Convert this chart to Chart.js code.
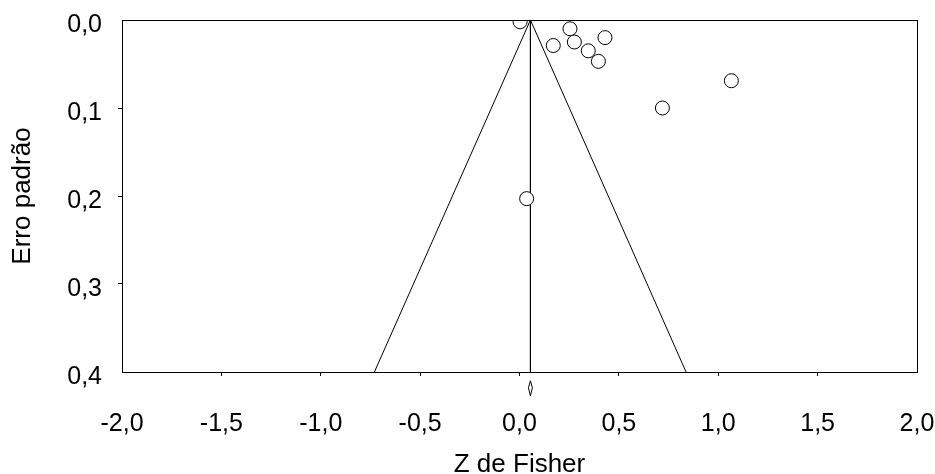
<!DOCTYPE html>
<html>
<head>
<meta charset="utf-8">
<script src="https://cdn.jsdelivr.net/npm/chart.js@4.4.1/dist/chart.umd.min.js"></script>
<style>
  body { margin: 0; background: #fff; }
</style>
</head>
<body>
<canvas id="funnel" width="935" height="474"></canvas>
<script>
// estudos: Z de Fisher e erro padrão
const zFisher = [0.003, 0.254, 0.170, 0.276, 0.430, 0.346, 0.397, 1.066, 0.719, 0.036];
const erroPadrao = [0.002, 0.010, 0.029, 0.025, 0.020, 0.035, 0.047, 0.069, 0.100, 0.203];

// efeito combinado e limites do funil (IC 95%)
const pooled = 0.055;
const funnelX = [-0.730, 0.055, 0.838];
const funnelSE = [0.4, 0, 0.4];

// losango do efeito combinado (abaixo do eixo)
const diamondX = [0.045, 0.055, 0.065, 0.055, 0.045];
const diamondY = [0.418, 0.410, 0.418, 0.427, 0.418];

const xTicks = [-2, -1.5, -1, -0.5, 0, 0.5, 1, 1.5, 2];
const yTicks = [0, 0.1, 0.2, 0.3, 0.4];

const toXY = (xs, ys) => xs.map((x, i) => ({ x: x, y: ys[i] }));
const fmt = v => Number(v).toFixed(1).replace('.', ',');

Chart.defaults.font.family = "'Liberation Sans', Arial, sans-serif";
Chart.defaults.color = '#000';

// moldura em volta da área do gráfico
const frame = {
  id: 'frame',
  afterDraw(chart) {
    const { ctx, chartArea: a } = chart;
    ctx.save();
    ctx.strokeStyle = '#000';
    ctx.lineWidth = 1;
    ctx.strokeRect(Math.round(a.left) + 0.5, Math.round(a.top) + 0.5,
      Math.round(a.right - a.left), Math.round(a.bottom - a.top));
    ctx.restore();
  }
};

const edgeTick = (ticks) => ctx =>
  (ctx.tick && (ctx.tick.value === ticks[0] || ctx.tick.value === ticks[ticks.length - 1]))
    ? 'rgba(0,0,0,0)' : '#000';

new Chart(document.getElementById('funnel'), {
  type: 'scatter',
  data: {
    datasets: [
      {
        data: toXY(zFisher, erroPadrao),
        pointRadius: 7,
        pointBackgroundColor: '#fff',
        pointBorderColor: '#000',
        pointBorderWidth: 1
      },
      {
        data: toXY(funnelX, funnelSE),
        showLine: true,
        borderColor: '#000',
        borderWidth: 1,
        pointRadius: 0
      },
      {
        data: toXY([pooled, pooled], [0, 0.4]),
        showLine: true,
        borderColor: '#000',
        borderWidth: 1,
        pointRadius: 0
      },
      {
        data: toXY(diamondX, diamondY),
        showLine: true,
        borderColor: '#000',
        borderWidth: 1,
        pointRadius: 0,
        clip: false
      }
    ]
  },
  options: {
    responsive: false,
    animation: false,
    layout: { padding: { top: 20, right: 18, left: 0, bottom: 0 } },
    plugins: { legend: { display: false }, tooltip: { enabled: false } },
    scales: {
      x: {
        type: 'linear',
        min: -2,
        max: 2,
        afterBuildTicks: s => { s.ticks = xTicks.map(v => ({ value: v })); },
        afterFit: s => { s.height = 102; s.paddingLeft = 0; s.paddingRight = 0; },
        ticks: { callback: fmt, font: { size: 25 }, padding: 33, maxRotation: 0 },
        grid: { drawOnChartArea: false, tickLength: 4, tickColor: edgeTick(xTicks) },
        border: { color: '#000', width: 1 },
        title: {
          display: true,
          text: 'Z de Fisher',
          font: { size: 26, lineHeight: 1 },
          padding: { top: 0, bottom: -4 }
        }
      },
      y: {
        type: 'linear',
        reverse: true,
        min: 0,
        max: 0.4,
        afterBuildTicks: s => { s.ticks = yTicks.map(v => ({ value: v })); },
        afterFit: s => { s.width = 122; s.paddingTop = 0; s.paddingBottom = 0; },
        ticks: { callback: fmt, font: { size: 25 }, padding: 16, labelOffset: 5 },
        grid: { drawOnChartArea: false, tickLength: 4, tickColor: edgeTick(yTicks) },
        border: { color: '#000', width: 1 },
        title: {
          display: true,
          text: 'Erro padrão',
          font: { size: 26, lineHeight: 1 },
          padding: { top: 10, bottom: 0 }
        }
      }
    }
  },
  plugins: [frame]
});
</script>
</body>
</html>
